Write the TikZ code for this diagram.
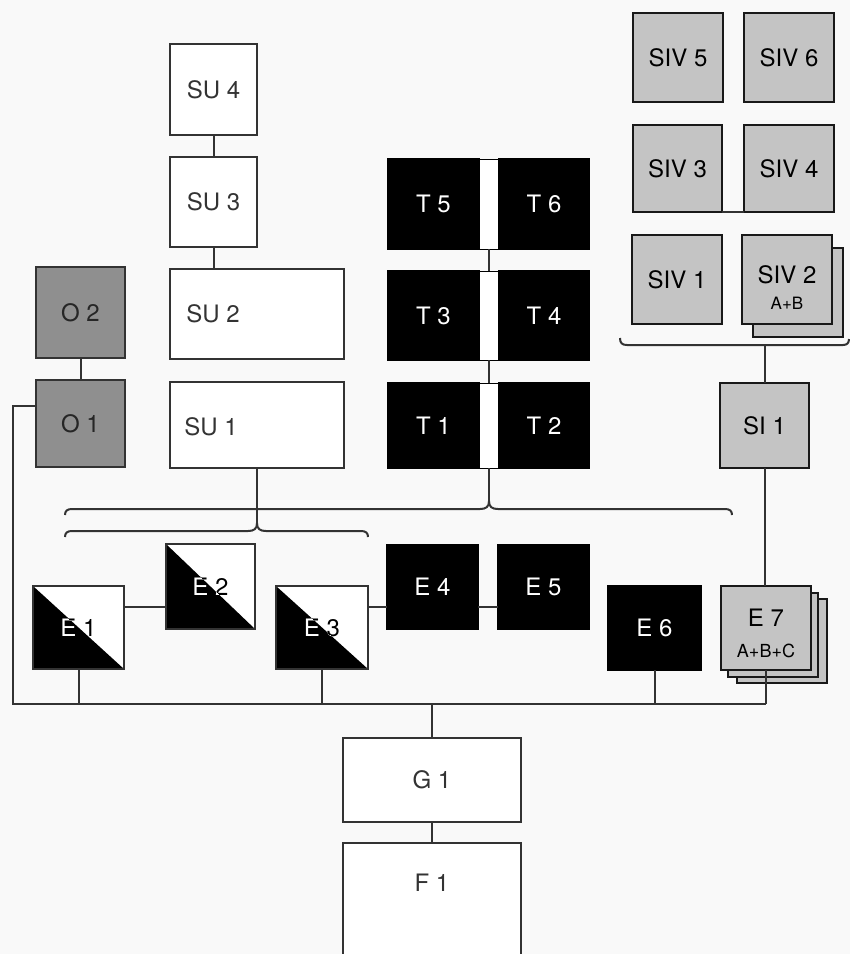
\documentclass[tikz,border=0pt]{standalone}
\usepackage{fontspec}
\setmainfont{TeX Gyre Heros}
\definecolor{lc}{gray}{0.2}
\definecolor{ogray}{gray}{0.56}
\definecolor{sgray}{gray}{0.77}
\definecolor{paper}{gray}{0.975}
\begin{document}
\begin{tikzpicture}[x=1pt,y=-1pt,
  ln/.style={draw=lc, line width=2pt},
  bx/.style={draw=lc, line width=2.6pt, inner sep=0pt, outer sep=0pt, fill=white},
  gbx/.style={bx, fill=ogray},
  sbx/.style={bx, draw=black!90, fill=sgray},
  tbx/.style={bx, draw=black, fill=black},
  lbl/.style={font=\fontsize{24}{26}\selectfont, text=lc, inner sep=0pt},
  wlbl/.style={lbl, text=white},
  blbl/.style={lbl, text=black},
  sublbl/.style={font=\fontsize{17}{19}\selectfont, text=black, inner sep=0pt}]
\useasboundingbox (0,0) rectangle (850,954);
\fill[paper] (0,0) rectangle (850,954);
\clip (0,0) rectangle (850,954);

% ---------- SU column ----------
\node[bx, minimum width=87pt, minimum height=91pt] (SU4) at (213.5,89.5) {};
\node[lbl] at (SU4) {SU 4};
\node[bx, minimum width=87pt, minimum height=90pt] (SU3) at (213.5,202) {};
\node[lbl] at (SU3) {SU 3};
\node[bx, minimum width=174pt, minimum height=90pt] (SU2) at (257,314) {};
\node[lbl] (SU2t) at (213,314) {SU 2};
\node[bx, minimum width=174pt, minimum height=86pt] (SU1) at (257,425) {};
\node[lbl] (SU1t) at (211,427) {SU 1};

% ---------- O column ----------
\node[gbx, minimum width=89pt, minimum height=91pt] (O2) at (80.5,312.5) {};
\node[lbl, text=black!85] at (O2) {O 2};
\node[gbx, minimum width=89pt, minimum height=87pt] (O1) at (80.5,423.5) {};
\node[lbl, text=black!85] at (O1) {O 1};

% ---------- T blocks ----------
\foreach \a/\b/\s/\cy/\h in {5/6/s56/204/90, 3/4/s34/315.5/89, 1/2/s12/425.5/85}{
  \node[tbx, minimum width=91pt, minimum height=\h pt] (T\a) at (433.5,\cy) {};
  \node[wlbl] at (T\a) {T \a};
  \node[tbx, minimum width=90pt, minimum height=\h pt] (T\b) at (544,\cy) {};
  \node[wlbl] at (T\b) {T \b};
  \node[draw=black, line width=0.8pt, fill=white, inner sep=0pt, outer sep=0pt,
        minimum width=19pt, minimum height=\h pt] (\s) at (489,\cy) {};
}

% ---------- SIV group ----------
\node[sbx, minimum width=90pt, minimum height=89pt] (SIV5) at (678,57.5) {};
\node[blbl] at (SIV5) {SIV 5};
\node[sbx, minimum width=90pt, minimum height=89pt] (SIV6) at (789,57.5) {};
\node[blbl] at (SIV6) {SIV 6};
\node[sbx, minimum width=89pt, minimum height=87pt] (SIV3) at (677.5,168.5) {};
\node[blbl] at (SIV3) {SIV 3};
\node[sbx, minimum width=90pt, minimum height=87pt] (SIV4) at (789,168.5) {};
\node[blbl] at (SIV4) {SIV 4};
\node[sbx, minimum width=90pt, minimum height=89pt] (SIV1) at (677,279.5) {};
\node[blbl] at (SIV1) {SIV 1};
\node[sbx, minimum width=90pt, minimum height=89pt] (SIV2b) at (798,292.5) {};
\node[sbx, minimum width=90pt, minimum height=89pt] (SIV2) at (787,279.5) {};
\node[blbl] at (787,275) {SIV 2};
\node[sublbl] at (787,303) {A+B};

\node[sbx, minimum width=89pt, minimum height=85pt] (SI1) at (764.5,425.5) {};
\node[blbl] at (SI1) {SI 1};

% ---------- E row ----------
\foreach \n/\cx/\cy/\w/\h in {1/78.5/627.5/91/83, 2/210.5/586.5/89/85, 3/322/627.5/92/83}{
  \node[bx, minimum width=\w pt, minimum height=\h pt] (E\n) at (\cx,\cy) {};
  \fill[black] (E\n.north west) -- (E\n.south east) -- (E\n.south west) -- cycle;
  \begin{scope}
    \clip (E\n.north west) -- (E\n.south east) -- (E\n.south west) -- cycle;
    \node[wlbl] at (E\n) {E \n};
  \end{scope}
  \begin{scope}
    \clip (E\n.north west) -- (E\n.south east) -- (E\n.north east) -- cycle;
    \node[blbl] at (E\n) {E \n};
  \end{scope}
  \draw[draw=lc, line width=2.6pt] (E\n.north west) rectangle (E\n.south east);
}
\node[tbx, minimum width=91pt, minimum height=84pt] (E4) at (432.5,587) {};
\node[wlbl] at (E4) {E 4};
\node[tbx, minimum width=91pt, minimum height=84pt] (E5) at (543.5,587) {};
\node[wlbl] at (E5) {E 5};
\node[tbx, minimum width=93pt, minimum height=84pt] (E6) at (654.5,628) {};
\node[wlbl] at (E6) {E 6};
\node[sbx, minimum width=90pt, minimum height=84pt] (E7c) at (782,641) {};
\node[sbx, minimum width=90pt, minimum height=84pt] (E7b) at (773,635) {};
\node[sbx, minimum width=90pt, minimum height=84pt] (E7) at (766,628) {};
\node[blbl] at (766,618) {E 7};
\node[sublbl, font=\fontsize{18}{20}\selectfont] at (766,651) {A+B+C};

% ---------- G / F ----------
\node[bx, minimum width=178pt, minimum height=84pt] (G1) at (432,780) {};
\node[lbl] at (G1) {G 1};
\node[bx, minimum width=178pt, minimum height=140pt] (F1) at (432,913) {};
\node[lbl] at (432,883) {F 1};

% ---------- connectors ----------
\draw[ln] (SU4.south) -- (SU3.north);
\draw[ln] (SU3.south) -- (SU3.south |- SU2.north);
\draw[ln] (O2.south) -- (O1.north);
\draw[ln] (s56.south) -- (s34.north);
\draw[ln] (s34.south) -- (s12.north);
\draw[ln] (SIV3.south east) -- (SIV4.south west);

\coordinate (erow) at (0,607);
\draw[ln] (E1.east |- erow) -- (E2.west |- erow);
\draw[ln] (E3.east |- erow) -- (E4.west |- erow);
\draw[ln] (E4.east |- erow) -- (E5.west |- erow);

% braces
\coordinate (ubtip) at (489,501);
\coordinate (lbtip) at (257,523);
\coordinate (sivtip) at (764.5,345);
\draw[ln] (65,515) .. controls (65,511) and (67,509) .. (72,509) -- (480,509)
  .. controls (486,509) and (489,507) .. (ubtip)
  .. controls (489,507) and (492,509) .. (498,509) -- (725,509)
  .. controls (730,509) and (732,511) .. (732,515);
\draw[ln] (65,537) .. controls (65,533) and (67,531) .. (72,531) -- (248,531)
  .. controls (254,531) and (257,529) .. (lbtip)
  .. controls (257,529) and (260,531) .. (266,531) -- (361,531)
  .. controls (366,531) and (368,533) .. (368,537);
\draw[ln] (620,338) .. controls (620,343) and (622,345) .. (627,345) -- (843,345)
  .. controls (847,345) and (849,343) .. (849,339);
\draw[ln] (s12.south) -- (ubtip);
\draw[ln] (SU1.south) -- (lbtip);
\draw[ln] (sivtip) -- (SI1.north);
\draw[ln] (SI1.south) -- (SI1.south |- E7.north);

% bottom bus
\coordinate (bl) at (13,704);
\coordinate (br) at (E7.south |- bl);
\draw[ln] ([yshift=17.5pt]O1.west) -| (bl) -- (br);
\draw[ln] (E7.south) -- (br);
\draw[ln] (E1.south) -- (E1.south |- bl);
\draw[ln] (E3.south) -- (E3.south |- bl);
\draw[ln] (E6.south) -- (E6.south |- bl);
\draw[ln] (G1.north |- bl) -- (G1.north);
\draw[ln] (G1.south) -- (F1.north);
\end{tikzpicture}
\end{document}
